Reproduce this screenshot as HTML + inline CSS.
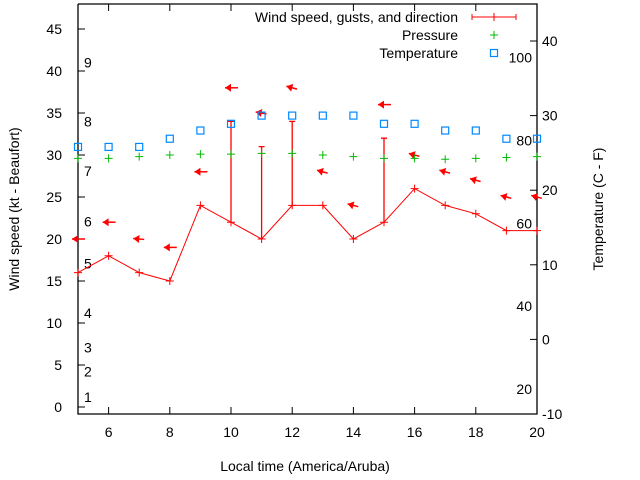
<!DOCTYPE html>
<html><head><meta charset="utf-8"><style>
body{margin:0;background:#fff}
svg{display:block;font-family:"Liberation Sans",sans-serif}
text{fill:#000}
</style></head><body>
<svg id="c" width="640" height="480">
<rect width="640" height="480" fill="#fff"/>
</svg>
<script>
const hours=[5,6,7,8,9,10,11,12,13,14,15,16,17,18,19,20];
const speed=[16,18,16,15,24,22,20,24,24,20,22,26,24,23,21,21];
const gust=[16,18,16,15,24,34,31,34,24,20,32,26,24,23,21,21];
const dirY=[20,22,20,19,28,38,35,38,28,24,36,30,28,27,25,25];
const dirAng=[180,180,175,180,180,180,170,165,165,165,180,165,165,165,165,165];
const pressure=[29.6,29.6,29.8,30,30.1,30.1,30.2,30.2,30.0,29.8,29.6,29.6,29.5,29.6,29.7,29.8];
const tempC=[25.8,25.8,25.8,26.9,28,28.9,30,30,30,30,28.9,28.9,28,28,26.9,26.9];
const xTicks=[6,8,10,12,14,16,18,20];
const yTicks=[0,5,10,15,20,25,30,35,40,45];
const y2Ticks=[-10,0,10,20,30,40];
const fLabels=[20,40,60,80,100];
const bfLabels=[1,2,3,4,5,6,7,8,9];
const bfPos=[1.2,4.2,7.1,11.2,17.1,22.1,28.1,34,41];

const L=78,R=537,T=4,B=414;
const X=h=>L+(h-5)*(R-L)/15;
const Y=v=>407-v*8.4;
const Y2=c=>B-(c+10)*7.46;
const svg=document.getElementById('c');
const NS='http://www.w3.org/2000/svg';
function mk(tag,a,par){const e=document.createElementNS(NS,tag);for(const k in a)e.setAttribute(k,a[k]);(par||svg).appendChild(e);return e;}
function txt(s,x,y,anchor,par){const t=mk('text',{x:x,y:y,'font-size':14,'text-anchor':anchor||'middle'},par);t.textContent=s;return t;}

// axes frame
const fr=mk('path',{d:`M${L},${T}V${B}H${R}V${T}H${L}`,fill:'none',stroke:'#000','stroke-width':1.3});



const gx=mk('g',{});


xTicks.forEach(h=>{
  mk('line',{x1:X(h),x2:X(h),y1:B,y2:B-7,stroke:'#000'},gx);
  mk('line',{x1:X(h),x2:X(h),y1:T,y2:T+7,stroke:'#000'},gx);
  const t=txt(String(h),X(h),437,'middle',gx);
  
  
});
const gy=mk('g',{});


yTicks.forEach(v=>{
  mk('line',{x1:L,x2:L+7,y1:Y(v),y2:Y(v),stroke:'#000'},gy);
  const t=txt(String(v),62,Y(v)+5,'end',gy);
  
  
});
const gy2=mk('g',{});


y2Ticks.forEach(c=>{
  mk('line',{x1:R,x2:R-7,y1:Y2(c),y2:Y2(c),stroke:'#000'},gy2);
  const t=txt(String(c),542,Y2(c)+5,'start',gy2);
  
  
});
fLabels.forEach(f=>{
  const t=txt(String(f),532,Y2((f-32)*5/9)+5,'end');
  
  
});
bfLabels.forEach((b,i)=>{
  const t=txt(String(b),84,Y(bfPos[i])+5,'start');
  
  
});

// titles
let t=txt('Local time (America/Aruba)',305,471);


t=txt('Wind speed (kt - Beaufort)',0,0);
t.setAttribute('transform','translate(19,209) rotate(-90)');


t=txt('Temperature (C - F)',0,0);
t.setAttribute('transform','translate(603,209) rotate(-90)');



// wind line + gust bars
const gw=mk('g',{stroke:'#f00',fill:'none'});


mk('polyline',{points:hours.map((h,i)=>X(h)+','+Y(speed[i])).join(' ')},gw);
hours.forEach((h,i)=>{
  const x=X(h),y=Y(speed[i]);
  mk('path',{d:`M${x-4},${y}H${x+4}M${x},${y-4}V${y+4}`},gw);
  if(gust[i]>speed[i]){
    const gy=Y(gust[i]);
    const b=mk('path',{d:`M${x},${y}V${gy}M${x-3},${gy}H${x+3}`,'stroke-width':1.3},gw);
    
    
  }
});
// direction arrows
hours.forEach((h,i)=>{
  const cx=X(h),cy=Y(dirY[i]);
  const a=dirAng[i]*Math.PI/180;
  const dx=Math.cos(a),dy=-Math.sin(a);
  const len=dirAng[i]==180?13:11;
  const hx=cx+dx*6,hy=cy+dy*6,tx=hx-dx*len,ty=hy-dy*len;
  const g=mk('g',{});
  
  
  mk('line',{x1:hx,y1:hy,x2:tx,y2:ty,stroke:'#f00','stroke-width':1.5},g);
  const px=-dy,py=dx;
  mk('polygon',{points:`${hx},${hy} ${hx-dx*6+px*4},${hy-dy*6+py*4} ${hx-dx*6-px*4},${hy-dy*6-py*4}`,fill:'#f00'},g);
});
// pressure
const gp=mk('g',{stroke:'#0b0'});


hours.forEach((h,i)=>{
  const x=X(h),y=Y(pressure[i]);
  mk('path',{d:`M${x-4},${y}H${x+4}M${x},${y-4}V${y+4}`},gp);
});
// temperature
const gt=mk('g',{stroke:'#08f',fill:'none','stroke-width':1.2});


hours.forEach((h,i)=>{
  mk('rect',{x:X(h)-3.5,y:Y2(tempC[i])-3.5,width:7,height:7},gt);
});

// legend
const lg=mk('g',{});


t=txt('Wind speed, gusts, and direction',458,22,'end',lg);


mk('path',{d:'M472,17H516M472,14V20M516,14V20M494,13V21',stroke:'#f00',fill:'none'},lg);
t=txt('Pressure',458,40,'end',lg);


mk('path',{d:'M490,35H498M494,31V39',stroke:'#0b0'},lg);
t=txt('Temperature',458,58,'end',lg);


mk('rect',{x:490.5,y:49.5,width:7,height:7,stroke:'#08f',fill:'none','stroke-width':1.2},lg);
</script>
</body></html>
